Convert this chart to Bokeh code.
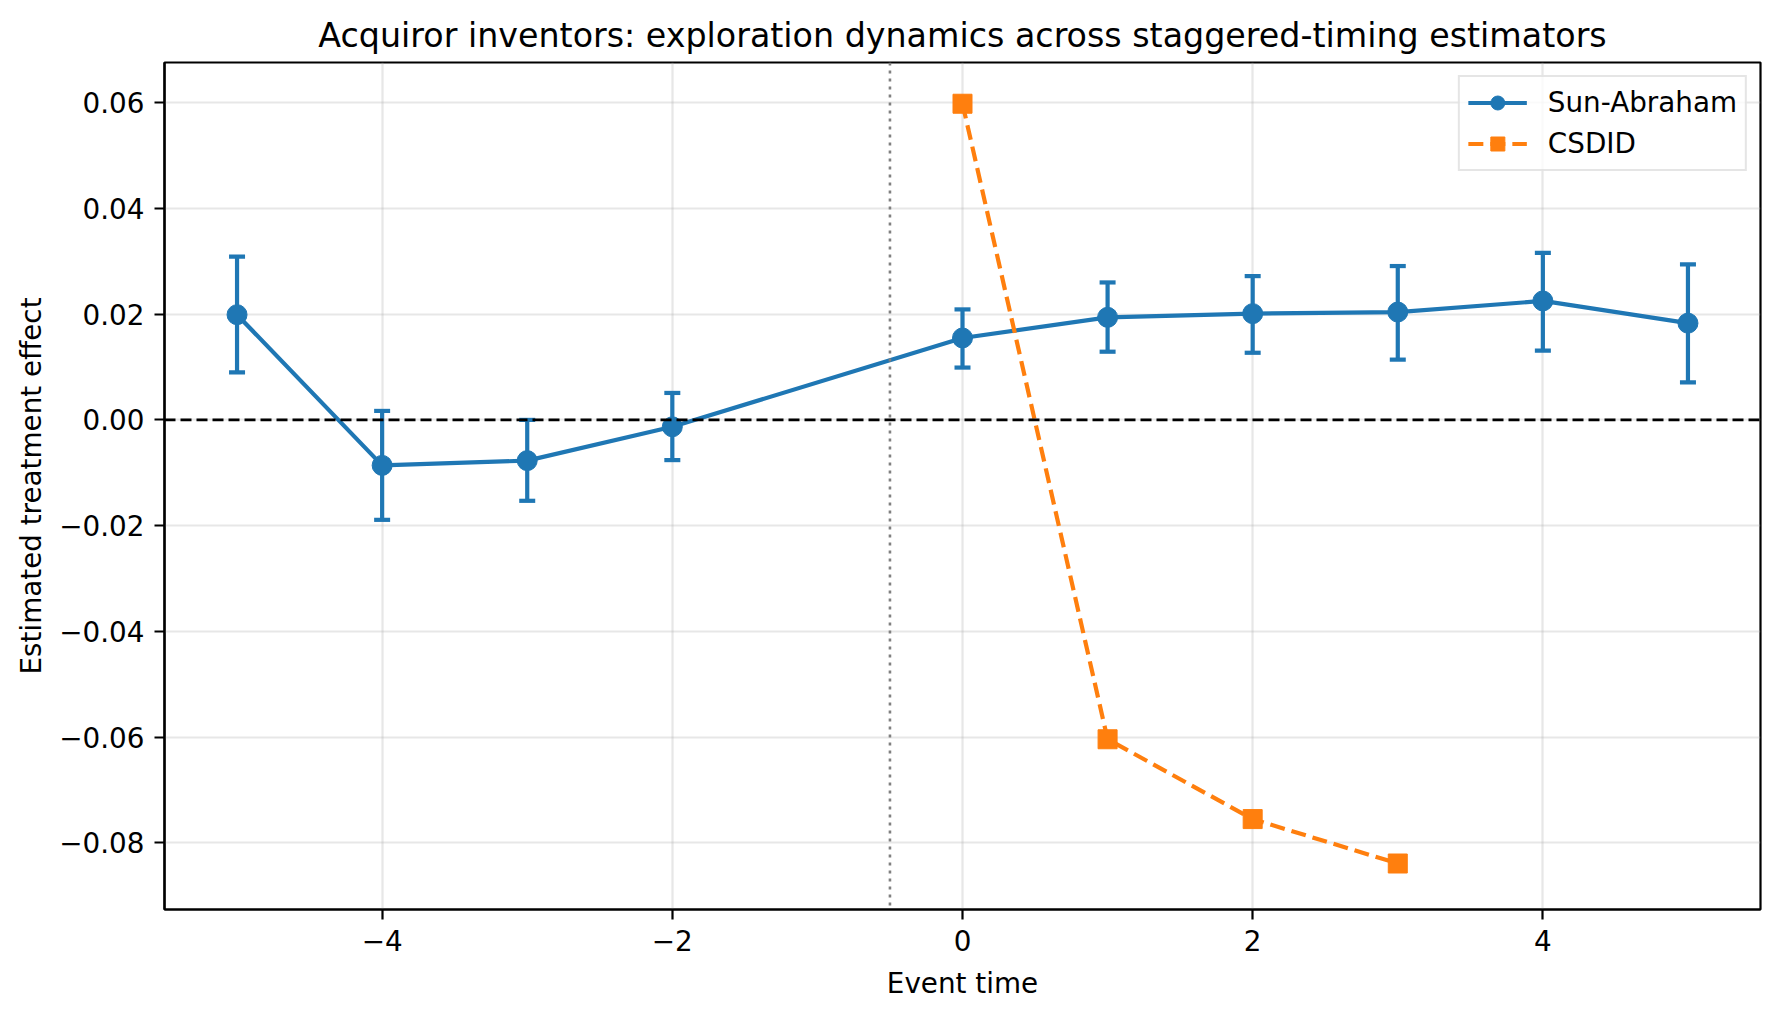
from bokeh.plotting import figure
from bokeh.models import Range1d, FixedTicker, CustomJSTickFormatter, Span, Legend, LegendItem
from bokeh.embed import file_html
from bokeh.resources import INLINE

BLUE = "#1f77b4"
ORANGE = "#ff7f0e"
FONT = "DejaVu Sans"

# event-time estimates
sa_time = [-5, -4, -3, -2, 0, 1, 2, 3, 4, 5]
sa_coef = [0.0199, -0.0086, -0.0077, -0.0013, 0.0155, 0.0194, 0.0201, 0.0204, 0.0225, 0.0183]
sa_lo = [0.0090, -0.0189, -0.0153, -0.0076, 0.0099, 0.0129, 0.0127, 0.0114, 0.0131, 0.0071]
sa_hi = [0.0309, 0.0017, 0.0000, 0.0051, 0.0209, 0.0260, 0.0272, 0.0291, 0.0316, 0.0294]

cs_time = [0, 1, 2, 3]
cs_coef = [0.0598, -0.0604, -0.0755, -0.0839]
cs_lo = [0.0593, -0.0610, -0.0762, -0.0851]
cs_hi = [0.0603, -0.0598, -0.0748, -0.0827]

x_ticks = [-4, -2, 0, 2, 4]
y_ticks = [-0.08, -0.06, -0.04, -0.02, 0.00, 0.02, 0.04, 0.06]

p = figure(width=1772, height=1009, output_backend="svg", toolbar_location=None,
           x_range=Range1d(-5.5, 5.5), y_range=Range1d(-0.0926, 0.0676),
           min_border_left=164, min_border_right=12, min_border_top=62,
           min_border_bottom=100,
           title="Acquiror inventors: exploration dynamics across staggered-timing estimators")

p.title.align = "center"
p.title.text_font = FONT
p.title.text_font_size = "33.3px"
p.title.text_font_style = "normal"
p.title.text_color = "black"
p.title.standoff = 16

p.outline_line_color = "black"
p.outline_line_width = 2.2
p.outline_line_alpha = 1.0

p.xaxis.ticker = FixedTicker(ticks=x_ticks)
p.yaxis.ticker = FixedTicker(ticks=y_ticks)
p.xaxis.formatter = CustomJSTickFormatter(
    code="return (tick < 0 ? '\u2212' : '') + Math.abs(tick).toFixed(0);")
p.yaxis.formatter = CustomJSTickFormatter(
    code="return (tick < -1e-9 ? '\u2212' : '') + Math.abs(tick).toFixed(2);")

p.xaxis.axis_label = "Event time"
p.yaxis.axis_label = "Estimated treatment effect"
for ax in (p.xaxis, p.yaxis):
    ax.axis_label_text_font = FONT
    ax.axis_label_text_font_size = "27.8px"
    ax.axis_label_text_font_style = "normal"
    ax.axis_label_text_color = "black"
    ax.major_label_text_font = FONT
    ax.major_label_text_font_size = "27.8px"
    ax.major_label_text_color = "black"
    ax.major_tick_in = 0
    ax.major_tick_out = 10
    ax.major_tick_line_width = 2.2
    ax.major_tick_line_color = "black"
    ax.minor_tick_line_color = None
    ax.axis_line_width = 2.2
    ax.axis_line_color = "black"
p.xaxis.major_label_standoff = 10
p.xaxis.axis_label_standoff = 13
p.yaxis.major_label_standoff = 10
p.yaxis.axis_label_standoff = 8

p.grid.grid_line_color = "#b0b0b0"
p.grid.grid_line_alpha = 0.3
p.grid.grid_line_width = 2.2

p.add_layout(Span(location=0, dimension="width", line_color="black",
                  line_dash="11 5", line_width=2.8))
p.add_layout(Span(location=-0.5, dimension="height", line_color="gray",
                  line_dash="3 5", line_width=2.6))

# Sun-Abraham with error bars
p.segment(sa_time, sa_lo, sa_time, sa_hi, line_color=BLUE, line_width=4.2)
p.scatter(sa_time, sa_lo, marker="dash", size=16, line_color=BLUE, line_width=4.2)
p.scatter(sa_time, sa_hi, marker="dash", size=16, line_color=BLUE, line_width=4.2)
sa_line = p.line(sa_time, sa_coef, line_color=BLUE, line_width=4.2)
sa_pts = p.scatter(sa_time, sa_coef, marker="circle", size=20, color=BLUE)

# CSDID
p.segment(cs_time, cs_lo, cs_time, cs_hi, line_color=ORANGE, line_width=4.2)
cs_line = p.line(cs_time, cs_coef, line_color=ORANGE, line_width=4.2, line_dash="15 7")
cs_pts = p.scatter(cs_time, cs_coef, marker="square", size=19, color=ORANGE)

legend = Legend(items=[
    LegendItem(label="Sun-Abraham", renderers=[sa_line, sa_pts]),
    LegendItem(label="CSDID", renderers=[cs_line, cs_pts]),
], location="top_right")
legend.label_text_font = FONT
legend.label_text_font_size = "27.8px"
legend.label_text_color = "black"
legend.glyph_width = 59
legend.glyph_height = 35
legend.label_standoff = 21
legend.spacing = 6
legend.padding = 8
legend.margin = 13
legend.border_line_color = "#cccccc"
legend.border_line_width = 2.2
legend.background_fill_alpha = 0.8
p.add_layout(legend)

open("out.html", "w").write(file_html(p, INLINE))
